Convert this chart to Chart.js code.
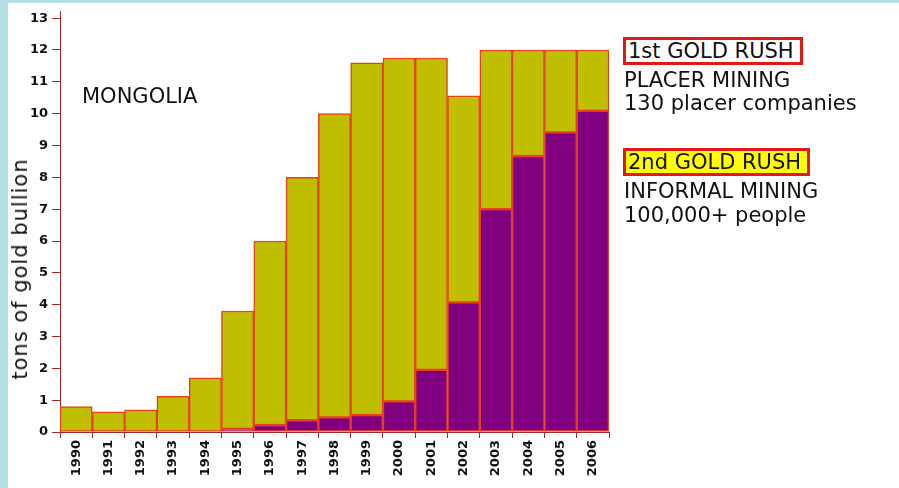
<!DOCTYPE html>
<html>
<head>
<meta charset="utf-8">
<script src="https://cdn.jsdelivr.net/npm/chart.js@4"></script>
<style>
  html, body { margin: 0; padding: 0; }
  body { width: 899px; height: 488px; background: #b4e0e4; position: relative; overflow: hidden; font-family: 'DejaVu Sans', Verdana, sans-serif; }
  #panel { position: absolute; left: 8px; top: 3px; right: 0; bottom: 0; background: #fff; }
  #chart { position: absolute; left: 0; top: 0; }
  .note { position: absolute; font-size: 21px; color: #111; white-space: nowrap; line-height: 1; }
  .box { border: 3px solid #e01818; padding: 0 6px 0 2px; line-height: 22px; }
  #ytitle { position: absolute; left: 20px; top: 269px; font-size: 21px; letter-spacing: 1px; color: #111; white-space: nowrap;
            transform: translate(-50%, -50%) rotate(-90deg); }
</style>
</head>
<body>
<div id="panel"></div>
<canvas id="chart" width="899" height="488"></canvas>
<div id="ytitle">tons of gold bullion</div>
<div class="note" style="left:82px; top:85.5px;">MONGOLIA</div>
<div class="note box" style="left:623px; top:37px; background:#fff;">1st GOLD RUSH</div>
<div class="note" style="left:624px; top:69.5px;">PLACER MINING</div>
<div class="note" style="left:624px; top:92.5px;">130 placer companies</div>
<div class="note box" style="left:623px; top:148px; background:#ffff00;">2nd GOLD RUSH</div>
<div class="note" style="left:624px; top:180.5px;">INFORMAL MINING</div>
<div class="note" style="left:624px; top:204.5px;">100,000+ people</div>
<script>
// Gold output, Mongolia (tons)
const years = ['1990', '1991', '1992', '1993', '1994', '1995', '1996', '1997', '1998',
               '1999', '2000', '2001', '2002', '2003', '2004', '2005', '2006'];
// informal (ninja) mining - purple, bottom of stack
const informal = [0, 0, 0, 0, 0, 0.1, 0.22, 0.37, 0.46, 0.53, 0.96, 1.95, 4.07, 7.0, 8.67, 9.41, 10.09];
// placer companies - olive, on top
const placer = [0.8, 0.63, 0.7, 1.12, 1.7, 3.7, 5.78, 7.63, 9.54, 11.07, 10.79, 9.8, 6.49, 5.0, 3.33, 2.59, 1.91];
const yTicks = [0, 1, 2, 3, 4, 5, 6, 7, 8, 9, 10, 11, 12, 13];

const axisColor = '#a02828';
const edgeColor = '#e8401c';

const ctx = document.getElementById('chart');
new Chart(ctx, {
  type: 'bar',
  data: {
    labels: years,
    datasets: [{
      label: 'informal',
      data: informal.map(v => v === 0 ? null : v),
      backgroundColor: '#800080',
      borderColor: edgeColor,
      borderWidth: 1.5,
      borderSkipped: false
    }, {
      label: 'placer',
      data: placer,
      backgroundColor: '#c0be00',
      borderColor: edgeColor,
      borderWidth: 1.5,
      borderSkipped: false
    }]
  },
  options: {
    responsive: false,
    animation: false,
    layout: { padding: { left: 8, right: 290, top: 4.6, bottom: 0 } },
    datasets: { bar: { categoryPercentage: 1, barPercentage: 1 } },
    plugins: { legend: { display: false }, tooltip: { enabled: false } },
    scales: {
      x: {
        stacked: true,
        afterFit: (s) => { s.height = 56; },
        border: { color: axisColor, width: 1 },
        grid: { offset: true, drawOnChartArea: false, color: axisColor, tickLength: 6 },
        ticks: {
          color: '#111',
          font: { family: 'DejaVu Sans', size: 13, weight: 'bold' },
          minRotation: 90,
          maxRotation: 90,
          padding: 2,
          autoSkip: false
        }
      },
      y: {
        stacked: true,
        min: 0,
        max: 13.2,
        afterFit: (s) => { s.width = 52; },
        afterBuildTicks: (s) => { s.ticks = yTicks.map(v => ({ value: v })); },
        border: { color: axisColor, width: 1 },
        grid: { drawOnChartArea: false, color: axisColor, tickLength: 8 },
        ticks: {
          color: '#111',
          font: { family: 'DejaVu Sans', size: 13, weight: 'bold' },
          padding: 4
        }
      }
    }
  }
});
</script>
</body>
</html>
